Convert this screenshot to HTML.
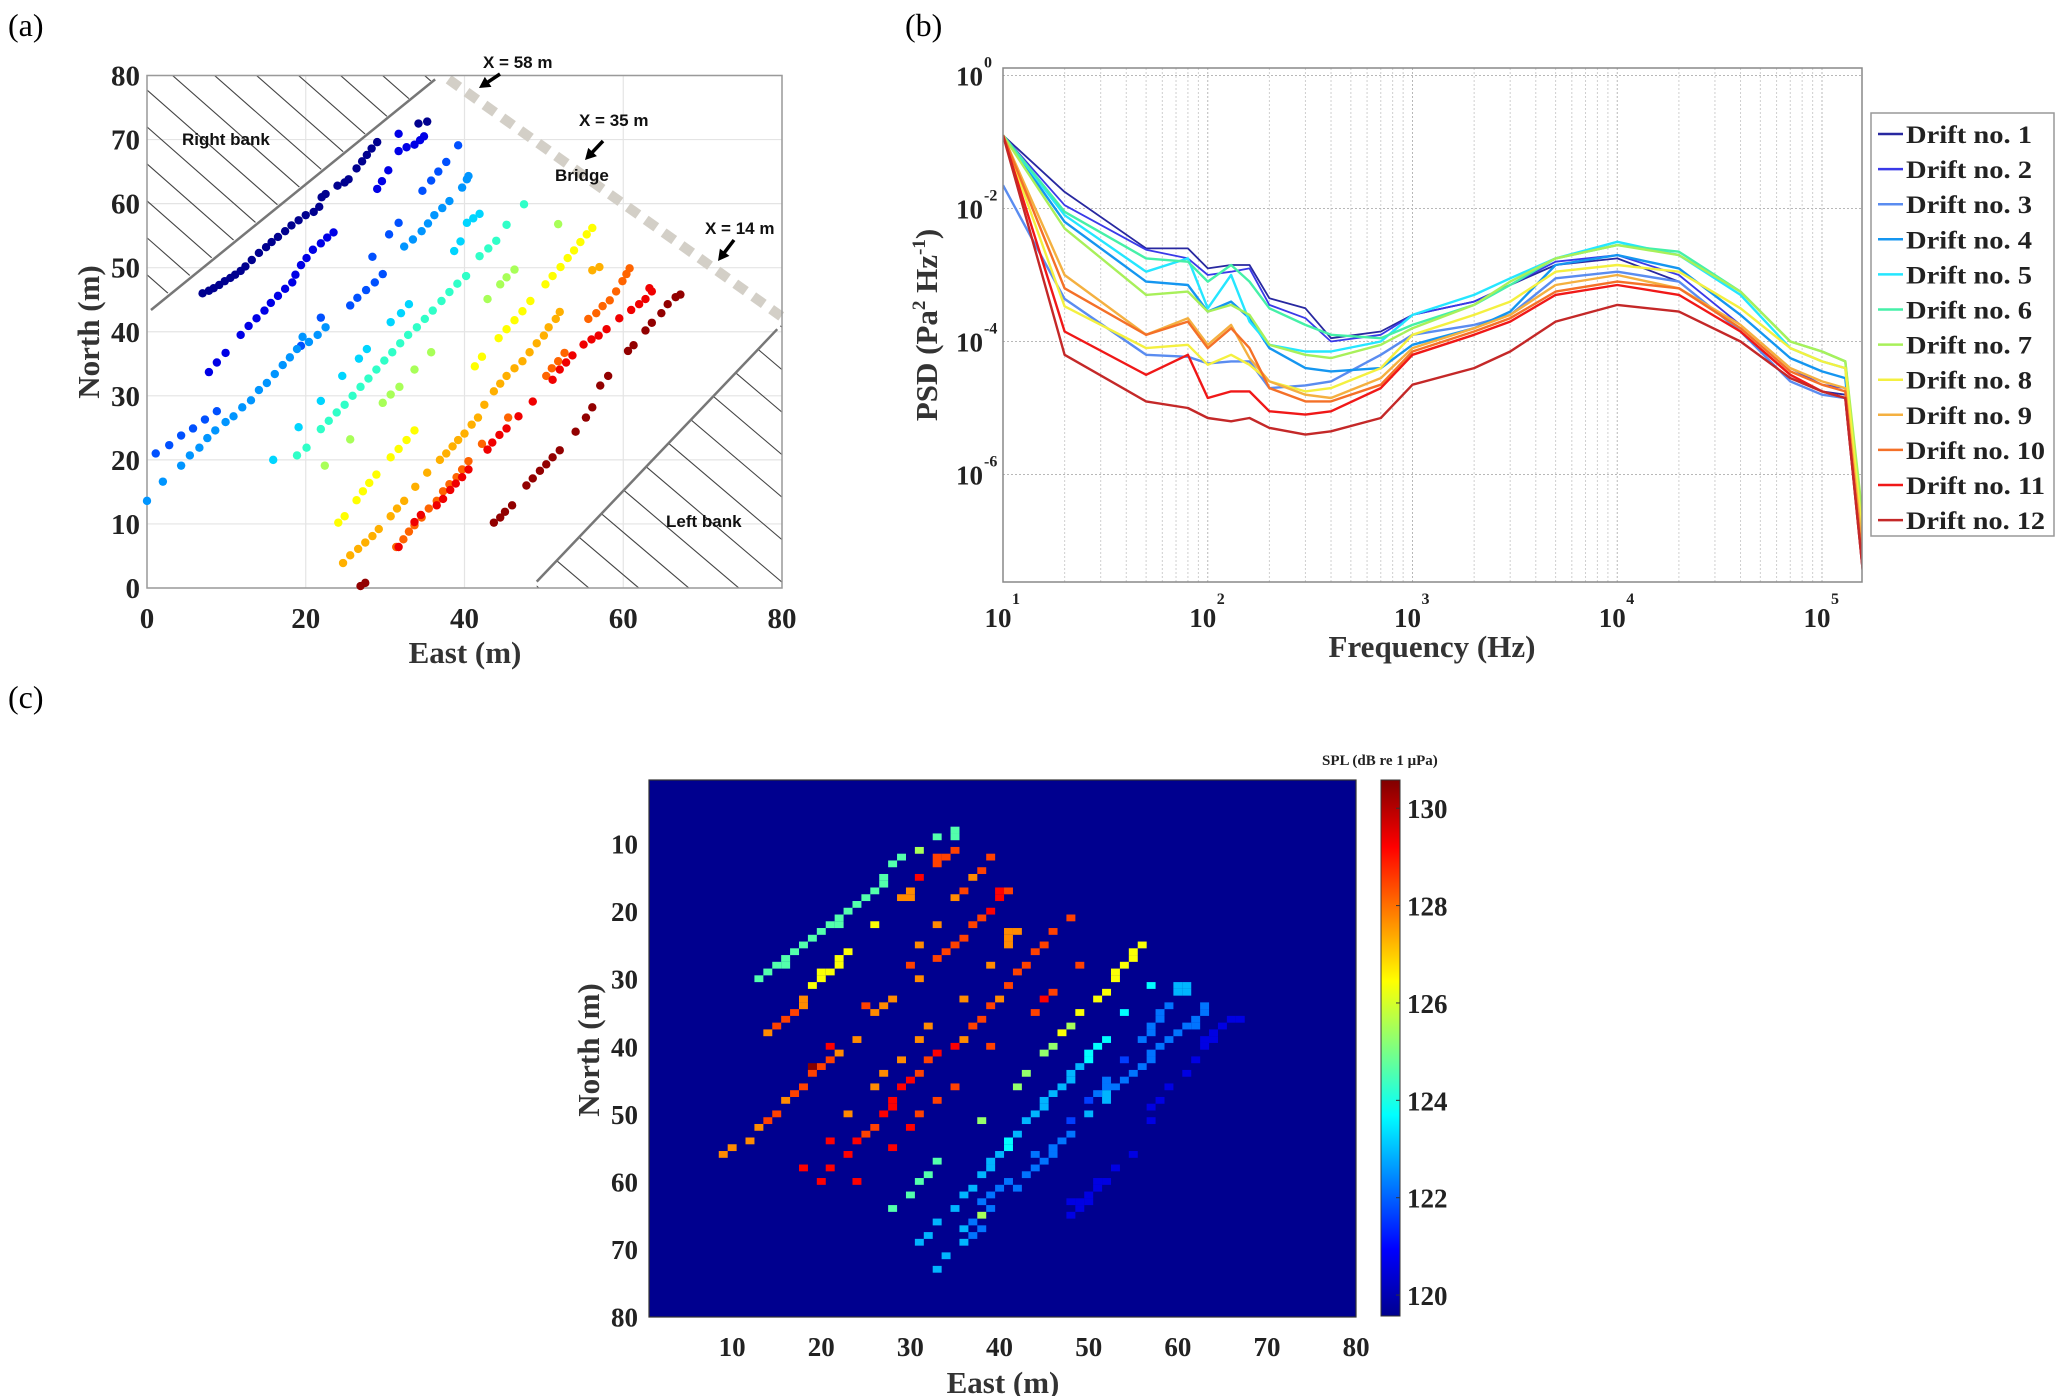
<!DOCTYPE html>
<html><head><meta charset="utf-8"><style>
html,body{margin:0;padding:0;background:#fff;}
svg{display:block;font-family:"Liberation Serif",serif;}
.sans{font-family:"Liberation Sans",sans-serif;}
</style></head><body>
<svg id="fig" xmlns="http://www.w3.org/2000/svg" width="2067" height="1396" viewBox="0 0 2067 1396">
<rect x="0" y="0" width="2067" height="1396" fill="#fff"/>
<defs>
<clipPath id="clipA"><rect x="147" y="75.5" width="635" height="512.5"/></clipPath>
<clipPath id="clipB"><rect x="1003" y="68" width="859" height="514"/></clipPath>
<linearGradient id="jet" x1="0" y1="1" x2="0" y2="0">
<stop offset="0" stop-color="#00008f"/><stop offset="0.125" stop-color="#0000ff"/><stop offset="0.375" stop-color="#00ffff"/><stop offset="0.625" stop-color="#ffff00"/><stop offset="0.875" stop-color="#ff0000"/><stop offset="1" stop-color="#800000"/>
</linearGradient>
</defs>
<text x="8" y="36" font-size="32">(a)</text>
<text x="905" y="36" font-size="32">(b)</text>
<text x="8" y="708" font-size="32">(c)</text>
<g id="pa"></g>
<g id="pb"></g>
<g id="pc"></g>
</svg>
<script>
// ---------- Panel (a) data: drift positions [East, North] ----------
const drift1=[[7,46],[7.8,46.4],[8.4,46.8],[9.1,47.3],[9.8,47.9],[10.5,48.4],[11.1,48.9],[11.8,49.5],[12.4,50.2],[13.2,51.2],[14.1,52.3],[15,53.2],[15.7,54],[16.5,54.8],[17.4,55.7],[18.2,56.6],[19.1,57.4],[20,58.2],[21,58.7],[21.7,59.5],[22,61],[22.5,61.5],[24,62.8],[24.9,63.3],[25.4,63.8],[26.4,65.5],[27.1,66.6],[27.7,67.6],[28.3,68.6],[29,69.6],[34.2,72.5],[35.3,72.8]];
const drift2=[[7.8,33.7],[8.8,35.2],[9.9,36.7],[11.8,39.5],[12.8,40.9],[13.8,42.1],[14.8,43.3],[15.6,44.5],[16.5,45.6],[17.4,46.7],[18.3,47.7],[18.7,48.9],[19.4,50.4],[20.1,51.5],[20.9,52.8],[21.9,53.8],[22.7,54.7],[23.5,55.5],[29,62.3],[29.6,63.5],[30.4,65.2],[31.7,68.2],[32.7,68.8],[33.7,69.2],[34.4,69.9],[34.9,70.5],[31.7,70.9]];
const drift3=[[1.1,21],[2.8,22.3],[4.3,23.8],[5.8,24.9],[7.3,26.3],[8.8,27.6],[34.7,62],[35.8,63.6],[36.7,65],[37.7,66.5],[39.2,69.1],[30.5,55.2],[31.7,57],[28.4,51.7],[25.6,44.1],[26.5,45.3],[27.6,46.5],[28.7,47.7],[29.7,49],[21.9,42.2],[19.4,37.8]];
const drift4=[[0,13.6],[2,16.6],[4.3,19.1],[5.4,20.7],[6.6,21.9],[7.6,23.4],[8.6,24.6],[9.9,25.9],[10.9,26.8],[12,28.2],[13.1,29.3],[14.1,30.9],[15.1,32],[16.1,33.4],[17.1,34.8],[18,36],[18.9,37.3],[19.6,39.2],[20.4,38.4],[21.5,39.5],[22.5,40.7],[32.4,53.3],[33.5,54.4],[34.6,55.7],[35.4,56.9],[36.2,58.2],[37.2,59.3],[38.1,60.4],[39.7,62.5],[40.3,63.8],[40.5,64.3]];
const drift5=[[15.9,20],[19.1,25.1],[21.9,29.2],[24.6,33.1],[26.7,35.8],[27.7,37.3],[30.7,41.5],[32,42.9],[33,44.3],[38.7,52.6],[39.5,54.1],[40.3,57],[41.1,57.7],[41.9,58.4]];
const drift6=[[18.9,20.7],[20.1,21.9],[21.9,24.8],[22.9,26.1],[23.9,27.4],[24.9,28.6],[25.9,30],[26.9,31.4],[27.9,32.7],[28.9,34.1],[29.9,35.5],[30.9,36.8],[31.9,38.2],[32.9,39.5],[34,40.7],[35,42],[36,43.3],[37.1,44.8],[38.1,46.2],[39.1,47.5],[40.2,48.7],[41.9,51.8],[43,53],[44,54.2],[45.3,56.7],[47.5,59.9]];
const drift7=[[22.4,19.1],[25.6,23.2],[29.7,28.9],[30.7,30.2],[31.8,31.4],[33.7,34.1],[35.8,36.8],[42.9,45.1],[44.5,47.4],[45.3,48.5],[46.3,49.7],[51.8,56.8]];
const drift8=[[24.1,10.2],[24.9,11.2],[26.4,13.7],[27.2,15.1],[28,16.4],[28.9,17.7],[30.7,20.4],[31.7,21.7],[32.7,23.1],[33.7,24.6],[41.3,34.6],[42.2,36.1],[44.3,39],[45.3,40.4],[46.3,41.8],[47.3,43.2],[48.3,44.8],[50.2,47.4],[51.1,48.7],[52.1,50.1],[53,51.5],[53.8,52.7],[54.6,54],[55.4,55.2],[56.1,56.2]];
const drift9=[[24.7,3.9],[25.6,5.1],[26.6,6.1],[27.5,7.1],[28.4,8.1],[29.2,9.2],[30.7,11.2],[31.5,12.4],[32.4,13.6],[33.8,15.8],[35.3,18],[36.9,20],[37.7,21],[38.5,22.1],[39.2,23.1],[40,24.1],[40.9,25.5],[41.7,26.6],[42.5,28.6],[43.7,30.7],[44.5,31.9],[45.3,33.1],[46.3,34.3],[47.3,35.4],[48.2,36.8],[49.1,38.2],[50,39.4],[50.6,40.7],[51.5,42],[52,43.1],[56.1,49.6],[57,50.1]];
const drift10=[[31.4,6.4],[32.3,7.6],[33,8.8],[33.7,9.8],[34.6,11],[35.5,12.4],[36.5,13.6],[37.3,15.1],[38.1,16.2],[39,17.3],[39.7,18.5],[40.5,19.8],[42.2,22.5],[45.5,26.6],[50.3,33.1],[51,34.3],[51.8,35.4],[52.6,36.7],[55.6,42],[56.6,42.9],[57.4,44],[58.3,44.9],[59.1,46.3],[59.9,47.9],[60.4,49],[60.8,49.9]];
const drift11=[[31.7,6.4],[33.7,10.3],[34.5,11.4],[36.5,12.9],[37.3,13.9],[38.2,15.3],[38.9,16.3],[39.7,17.3],[40.5,18.5],[42.9,21.6],[43.5,22.7],[44.4,23.9],[45.3,24.9],[46.8,26.8],[48.6,29.1],[51.1,32.5],[52,34.1],[52.8,35.2],[53.6,36.3],[55,38],[56,38.8],[56.9,39.4],[57.9,40.4],[59.5,42.1],[61,43.4],[62,44.3],[62.8,45.1],[63.6,46.3],[63.3,46.8]];
const drift12=[[26.9,0.3],[27.5,0.8],[43.7,10.2],[44.5,11],[45.1,11.9],[46,12.9],[47.8,16],[48.6,17.1],[49.5,18.3],[50.3,19.3],[51.1,20.4],[52,21.5],[54,24.4],[55.3,26.6],[56.1,28.2],[57.1,31.6],[58.1,33.1],[60.6,37],[61.3,37.9],[62.8,40.2],[63.6,41.4],[64.8,42.9],[65.6,44.3],[66.6,45.4],[67.2,45.8]];
const mapTicks=[0,20,40,60,80];
const mapYTicks=[0,10,20,30,40,50,60,70,80];

// ---------- Panel (b) data: PSD, log10 values ----------
const psdFreq=[10,20,50,80,100,130,160,200,300,400,700,1000,2000,3000,5000,10000,20000,40000,70000,100000,130000,160000];
const psd1=[-0.9,-1.75,-2.6,-2.6,-2.9,-2.85,-2.85,-3.35,-3.5,-3.95,-3.85,-3.6,-3.4,-3.15,-2.85,-2.75,-3.1,-3.85,-4.5,-4.75,-4.8,-7.5];
const psd2=[-0.9,-1.95,-2.62,-2.75,-3.0,-2.95,-2.9,-3.45,-3.65,-4.0,-3.9,-3.6,-3.4,-3.15,-2.8,-2.7,-3.0,-3.75,-4.4,-4.65,-4.7,-7.5];
const psd3=[-1.65,-3.36,-4.2,-4.23,-4.33,-4.3,-4.3,-4.7,-4.66,-4.6,-4.2,-3.9,-3.75,-3.6,-3.05,-2.95,-3.1,-3.85,-4.6,-4.8,-4.85,-7.6];
const psd4=[-0.9,-2.2,-3.1,-3.15,-3.55,-3.4,-3.65,-4.1,-4.4,-4.45,-4.4,-4.05,-3.8,-3.55,-2.85,-2.7,-2.9,-3.6,-4.25,-4.45,-4.55,-7.4];
const psd5=[-0.9,-2.1,-2.95,-2.75,-3.5,-3.0,-3.7,-4.05,-4.15,-4.15,-4.0,-3.6,-3.3,-3.05,-2.75,-2.5,-2.7,-3.3,-4.1,-4.3,-4.4,-7.2];
const psd6=[-0.9,-2.05,-2.75,-2.8,-3.1,-2.85,-3.1,-3.5,-3.75,-3.9,-3.95,-3.75,-3.45,-3.15,-2.75,-2.55,-2.65,-3.25,-4.0,-4.15,-4.3,-7.0];
const psd7=[-0.9,-2.3,-3.3,-3.25,-3.55,-3.45,-3.6,-4.05,-4.2,-4.25,-4.05,-3.8,-3.45,-3.1,-2.75,-2.55,-2.7,-3.25,-4.0,-4.15,-4.3,-6.8];
const psd8=[-0.9,-3.47,-4.1,-4.05,-4.35,-4.2,-4.35,-4.6,-4.75,-4.7,-4.4,-3.9,-3.6,-3.4,-2.95,-2.85,-2.95,-3.5,-4.1,-4.3,-4.4,-7.1];
const psd9=[-0.9,-3.0,-3.9,-3.65,-4.05,-3.75,-4.25,-4.6,-4.8,-4.85,-4.55,-4.1,-3.8,-3.6,-3.15,-3.0,-3.2,-3.75,-4.4,-4.6,-4.7,-7.3];
const psd10=[-0.9,-3.2,-3.9,-3.7,-4.1,-3.8,-4.1,-4.7,-4.9,-4.9,-4.65,-4.15,-3.85,-3.65,-3.25,-3.1,-3.2,-3.8,-4.45,-4.65,-4.75,-7.5];
const psd11=[-0.9,-3.85,-4.5,-4.2,-4.85,-4.75,-4.75,-5.05,-5.1,-5.05,-4.7,-4.2,-3.9,-3.7,-3.3,-3.15,-3.3,-3.85,-4.5,-4.75,-4.85,-7.6];
const psd12=[-0.9,-4.2,-4.9,-5.0,-5.15,-5.2,-5.15,-5.3,-5.4,-5.35,-5.15,-4.65,-4.4,-4.15,-3.7,-3.45,-3.55,-4.0,-4.55,-4.75,-4.85,-7.6];
const psdLegend=["Drift no. 1","Drift no. 2","Drift no. 3","Drift no. 4","Drift no. 5","Drift no. 6","Drift no. 7","Drift no. 8","Drift no. 9","Drift no. 10","Drift no. 11","Drift no. 12"];
const psdXTicks=[1,2,3,4,5];
const psdYTicks=[0,-2,-4,-6];

// ---------- Panel (c) data: heatmap cells [East, North, SPL dB] ----------
const heatCells=[[35,8,124.6],[35,9,124.6],[33,9,124.6],[31,11,125.5],[29,12,124.6],[28,13,124.6],[27,15,124.6],[27,16,124.6],[26,17,124.6],[25,18,124.6],[24,19,124.6],[23,20,124.6],[22,21,124.6],[22,22,124.6],[21,22,124.6],[20,23,124.6],[19,24,124.6],[18,25,124.6],[17,26,124.6],[16,27,124.6],[16,28,124.6],[15,28,124.6],[14,29,124.6],[13,30,124.6],
[23,26,126.4],[22,27,126.4],[22,28,126.4],[21,29,126.4],[20,29,126.4],[20,30,126.4],[19,31,126.4],[26,22,126.4],
[18,33,127.7],[18,34,127.7],[17,35,128.5],[16,36,128.5],[15,37,128.5],[14,38,127.7],[21,40,129.2],[22,41,127.7],[21,42,128.5],[20,43,128.5],[19,43,130.5],[19,44,128.5],[18,46,128.5],[17,47,128.5],[16,48,127.7],[15,50,128.5],[14,51,128.5],[13,52,127.7],[12,54,127.7],[10,55,127.7],[9,56,127.7],
[25,34,128.5],[28,33,127.7],[27,34,127.7],[26,35,127.7],[24,39,127.7],[33,12,128.5],[33,13,128.5],[34,12,128.5],[35,11,128.5],[31,15,129.2],[30,17,127.7],[30,18,127.7],[29,18,127.7],[33,22,127.7],[31,25,127.7],[30,28,128.5],[31,30,127.7],
[39,12,128.5],[38,14,128.5],[37,15,127.7],[36,17,128.5],[35,18,127.7],[40,17,129.2],[40,18,129.2],[41,17,128.5],[39,20,129.2],[38,21,128.5],[37,22,128.5],[36,24,128.5],[35,25,128.5],[34,26,128.5],[33,27,128.5],
[41,23,127.7],[41,24,127.7],[41,25,127.7],[42,23,127.7],[39,28,127.7],[42,29,128.5],[43,28,128.5],[41,31,128.5],[40,33,127.7],[39,34,128.5],[38,36,128.5],[37,37,128.5],[36,39,127.7],[35,40,129.2],[33,41,129.2],[32,42,128.5],[31,44,128.5],[30,45,129.2],[29,46,129.2],[28,48,129.2],[28,49,129.2],[27,50,129.2],[26,52,128.5],[25,53,128.5],[24,54,129.2],[23,56,129.2],[21,54,129.2],[23,50,127.7],[26,46,127.7],[27,44,127.7],[29,42,127.7],[31,39,127.7],[32,37,127.7],[36,33,127.7],[39,40,128.5],[35,46,128.5],[33,48,128.5],[31,50,128.5],[30,52,129.2],[28,55,129.2],[18,58,129.2],[21,58,129.2],[20,60,129.2],[24,60,129.2],
[48,21,128.5],[46,23,128.5],[45,25,128.5],[44,26,128.5],[49,28,128.5],[46,32,128.5],[45,33,129.2],[44,35,128.5],
[56,25,126.4],[55,26,126.4],[55,27,126.4],[54,28,126.4],[53,29,126.4],[53,30,126.4],[52,32,126.4],[51,33,126.4],[49,35,126.4],[48,37,125.5],[47,38,126.4],[46,40,125.3],[45,41,125.3],[43,44,125.3],[42,46,125.3],[38,51,125.3],
[57,31,123.7],[60,31,122.9],[61,31,122.9],[60,32,122.9],[61,32,122.9],[59,34,122.2],[58,35,122.2],[58,36,122.2],[57,37,122.2],[57,38,122.2],[56,39,122.2],[52,39,123.7],[51,40,123.7],[50,41,123.7],[50,42,123.7],[49,43,122.9],[48,44,122.9],[48,45,122.9],[47,46,122.9],[46,47,122.9],[45,48,122.9],[45,49,122.9],[44,50,122.9],[43,51,122.9],[42,53,122.9],[41,54,123.7],[41,55,123.7],[40,56,122.9],[39,57,122.9],[39,58,122.9],[38,59,122.9],[37,61,122.9],[36,62,122.9],[35,64,122.9],[33,66,122.9],[32,68,122.9],[31,69,122.9],[34,71,122.9],[33,73,122.9],[30,62,124.6],[28,64,124.6],[31,60,124.6],[32,59,124.6],[33,57,124.6],[38,65,125.5],
[63,34,122.2],[63,35,122.2],[62,36,122.2],[62,37,122.2],[61,37,122.2],[60,38,122.2],[59,39,122.2],[58,40,122.2],[57,41,122.2],[57,42,122.2],[56,43,122.2],[55,44,122.2],[54,45,122.2],[53,46,122.2],[52,45,122.2],[52,46,122.2],[52,47,122.9],[52,48,122.9],[51,47,122.2],[50,48,121.6],[50,50,122.9],[54,42,121.6],[54,35,123.7],[48,51,121.6],[48,53,122.2],[47,54,122.2],[46,55,122.2],[46,56,122.2],[45,57,122.2],[44,56,122.2],[44,58,122.2],[43,59,122.2],[42,61,122.2],[41,60,122.2],[40,61,122.2],[39,62,122.2],[38,63,122.2],[39,64,122.2],[37,66,122.2],[36,67,122.9],[37,68,122.2],[38,67,122.2],[36,69,122.9],
[66,36,120.6],[67,36,120.6],[65,37,120.6],[64,38,120.6],[64,39,120.6],[63,39,120.6],[63,40,120.6],[62,42,120.6],[61,44,120.6],[59,46,120.6],[58,48,120.6],[57,49,120.6],[57,51,120.6],[55,56,120.6],[53,58,120.6],[52,60,120.6],[51,60,120.6],[51,61,120.6],[50,62,120.6],[49,63,120.6],[48,63,120.6],[49,64,120.6],[48,65,120.6],[50,63,120.6]];
const heatXTicks=[10,20,30,40,50,60,70,80];
const heatYTicks=[10,20,30,40,50,60,70,80];
const cbarTicks=[120,122,124,126,128,130];
const splMin=119.57, splMax=130.58;

const NS="http://www.w3.org/2000/svg";
function mk(tag,attrs,parent,txt){const e=document.createElementNS(NS,tag);for(const k in attrs)e.setAttribute(k,attrs[k]);if(txt!==undefined)e.textContent=txt;parent.appendChild(e);return e;}

// ======== Panel A ========
const pa=document.getElementById('pa');
const ax=e=>147+e*(782-147)/80, ay=n=>588-n*(588-75.5)/80;
for(const t of mapYTicks){const l=mk('line',{x1:147,x2:782,y1:ay(t),y2:ay(t),stroke:'#e4e4e4','stroke-width':1.2},pa);


const tx=mk('text',{x:140,y:ay(t)+10,'text-anchor':'end','font-size':29,'font-weight':'bold',fill:'#222'},pa,String(t));

}
for(const t of mapTicks){const l=mk('line',{x1:ax(t),x2:ax(t),y1:75.5,y2:588,stroke:'#e4e4e4','stroke-width':1.2},pa);


const tx=mk('text',{x:ax(t),y:628,'text-anchor':'middle','font-size':29,'font-weight':'bold',fill:'#222'},pa,String(t));

}
// banks
const gh=mk('g',{'clip-path':'url(#clipA)'},pa);


const rbPoly=[[0,43.4],[36.6,80],[0,80]].map(p=>ax(p[0])+','+ay(p[1])).join(' ');
mk('clipPath',{id:'rbClip'},pa).appendChild(Object.assign(document.createElementNS(NS,'polygon'),{}));
document.querySelector('#rbClip polygon').setAttribute('points',rbPoly);
const lbPoly=[[49.1,1],[80,41.2],[80,0],[49.1,0]].map(p=>ax(p[0])+','+ay(p[1])).join(' ');
mk('clipPath',{id:'lbClip'},pa).appendChild(document.createElementNS(NS,'polygon'));
document.querySelector('#lbClip polygon').setAttribute('points',lbPoly);
const rbG=mk('g',{'clip-path':'url(#rbClip)'},gh), lbG=mk('g',{'clip-path':'url(#lbClip)'},gh);
for(let x0=-500;x0<900;x0+=42){mk('line',{x1:x0,y1:75,x2:x0+600,y2:75+600*0.88,stroke:'#444','stroke-width':1.1},rbG);}
for(let x0=-500;x0<900;x0+=50){mk('line',{x1:x0,y1:300,x2:x0+600,y2:300+600*0.85,stroke:'#444','stroke-width':1.1},lbG);}
const rbl=mk('line',{x1:ax(0.5),y1:ay(43.4),x2:ax(36.3),y2:ay(79.4),stroke:'#777','stroke-width':2.5},pa);


const lbl=mk('line',{x1:ax(49.1),y1:ay(1),x2:ax(79.4),y2:ay(40.4),stroke:'#777','stroke-width':2.5},pa);


const br=mk('line',{x1:ax(38),y1:ay(79.4),x2:ax(79.9),y2:ay(42.4),stroke:'#d3cfc7','stroke-width':10,'stroke-dasharray':'13 9'},pa);


const box=mk('rect',{x:147,y:75.5,width:635,height:512.5,fill:'none',stroke:'#9a9a9a','stroke-width':1.5},pa);


const dColors=['#00008f','#0000e6','#0050ff','#0095ff','#00d5ff','#30ffc8','#a8ff58','#ffff00','#ffb000','#ff6400','#f00000','#920000'];
const drifts=[drift1,drift2,drift3,drift4,drift5,drift6,drift7,drift8,drift9,drift10,drift11,drift12];
drifts.forEach((s,i)=>{const g=mk('g',{},pa);


for(const p of s){const c=mk('circle',{cx:ax(p[0]),cy:ay(p[1]),r:4.2,fill:dColors[i]},g);

}});
const annots=[['X = 58 m',483,68],['X = 35 m',579,126],['Bridge',555,181],['X = 14 m',705,234],['Right bank',182,145],['Left bank',666,527]];
for(const a of annots){const t=mk('text',{x:a[1],y:a[2],'font-size':17,'font-weight':'bold',class:'sans',fill:'#111'},pa,a[0]);

}
const arrows=[[500,74,479,88],[603,141,585,160],[734,240,718,261]];
for(const a of arrows){const dx=a[2]-a[0],dy=a[3]-a[1],L=Math.hypot(dx,dy),ux=dx/L,uy=dy/L;
const g=mk('g',{},pa);


mk('line',{x1:a[0],y1:a[1],x2:a[2]-ux*6,y2:a[3]-uy*6,stroke:'#000','stroke-width':3.5},g);
const bx=a[2]-ux*11,by=a[3]-uy*11;
mk('polygon',{points:`${a[2]},${a[3]} ${bx-uy*6},${by+ux*6} ${bx+uy*6},${by-ux*6}`,fill:'#000'},g);}
const aX=mk('text',{x:465,y:663,'text-anchor':'middle','font-size':31,'font-weight':'bold',fill:'#333'},pa,'East (m)');


const aY=mk('text',{x:0,y:0,transform:'translate(99,332) rotate(-90)','text-anchor':'middle','font-size':31,'font-weight':'bold',fill:'#333'},pa,'North (m)');



// ======== Panel B ========
const pb=document.getElementById('pb');
const bx_=f=>1003+(Math.log10(f)-1)*204.75, by_=l=>75.5-l*66.5;
for(let d=1;d<=5;d++){for(let m=1;m<10;m++){const f=m*Math.pow(10,d);if(bx_(f)>1862)break;
const l=mk('line',{x1:bx_(f),x2:bx_(f),y1:68,y2:582,stroke:m===1?'#b8b8b8':'#cfcfcf','stroke-width':1,'stroke-dasharray':'2 2'},pb);

}}
for(const t of psdYTicks){const l=mk('line',{x1:1003,x2:1862,y1:by_(t),y2:by_(t),stroke:'#b8b8b8','stroke-width':1,'stroke-dasharray':'2 2'},pb);


const tx=mk('text',{x:983,y:by_(t)+10,'text-anchor':'end','font-size':27,'font-weight':'bold',fill:'#222'},pb,'10');


const sp=mk('text',{x:984,y:by_(t)-8,'font-size':16,'font-weight':'bold',fill:'#222'},pb,String(t));

}
for(const t of psdXTicks){const x=bx_(Math.pow(10,t));
const tx=mk('text',{x:x-5,y:627,'text-anchor':'middle','font-size':27,'font-weight':'bold',fill:'#222'},pb,'10');


const sp=mk('text',{x:x+9,y:604,'font-size':16,'font-weight':'bold',fill:'#222'},pb,String(t));

}
const pColors=['#2828a0','#3a3ae8','#5a8cf0','#1596f0','#25e6ff','#45f0a8','#a8f05a','#f4f040','#f4b040','#f47028','#f01818','#c42828'];
const psds=[psd1,psd2,psd3,psd4,psd5,psd6,psd7,psd8,psd9,psd10,psd11,psd12];
const gl=mk('g',{'clip-path':'url(#clipB)'},pb);
psds.forEach((s,i)=>{const pts=s.map((v,j)=>bx_(psdFreq[j]).toFixed(1)+','+by_(v).toFixed(1)).join(' ');
const pl=mk('polyline',{points:pts,fill:'none',stroke:pColors[i],'stroke-width':i<2?1.8:2.4,'stroke-linejoin':'round'},gl);

});
const bbox=mk('rect',{x:1003,y:68,width:859,height:514,fill:'none',stroke:'#888','stroke-width':1.5},pb);


const leg=mk('g',{},pb);


mk('rect',{x:1871,y:113,width:183,height:423,fill:'#fff',stroke:'#999','stroke-width':1.5},leg);
psdLegend.forEach((n,i)=>{const y=134+i*35.1;const g=mk('g',{},leg);


mk('line',{x1:1878,x2:1903,y1:y,y2:y,stroke:pColors[i],'stroke-width':2.5},g);
mk('text',{x:1906,y:y+9,'font-size':25,'font-weight':'bold',fill:'#222',textLength:n.length>11?139:126,lengthAdjust:'spacingAndGlyphs'},g,n);});
const bX=mk('text',{x:1432,y:657,'text-anchor':'middle','font-size':31,'font-weight':'bold',fill:'#333'},pb,'Frequency (Hz)');


const bY=mk('text',{x:0,y:0,transform:'translate(937,325) rotate(-90)','text-anchor':'middle','font-size':31,'font-weight':'bold',fill:'#333'},pb);


bY.innerHTML='PSD (Pa<tspan dy="-12" font-size="19">2</tspan><tspan dy="12"> Hz</tspan><tspan dy="-12" font-size="19">-1</tspan><tspan dy="12">)</tspan>';

// ======== Panel C ========
const pc=document.getElementById('pc');
const cx_=e=>643+e*8.914, cy_=n=>776+n*6.757;
function jet(v){let t=(v-splMin)/(splMax-splMin);t=Math.max(0,Math.min(1,t));
const st=[[0,0,0,143],[0.125,0,0,255],[0.375,0,255,255],[0.625,255,255,0],[0.875,255,0,0],[1,128,0,0]];
for(let i=1;i<st.length;i++){if(t<=st[i][0]){const a=st[i-1],b=st[i],u=(t-a[0])/(b[0]-a[0]);
return `rgb(${Math.round(a[1]+u*(b[1]-a[1]))},${Math.round(a[2]+u*(b[2]-a[2]))},${Math.round(a[3]+u*(b[3]-a[3]))})`;}}return 'rgb(128,0,0)';}
const hbg=mk('rect',{x:649,y:780,width:707,height:537,fill:jet(splMin)},pc);


for(const c of heatCells){const r=mk('rect',{x:cx_(c[0]-0.5),y:cy_(c[1]-0.5),width:8.95,height:6.8,fill:jet(c[2])},pc);

}
const hb=mk('rect',{x:649,y:780,width:707,height:537,fill:'none',stroke:'#333','stroke-width':1.2},pc);


for(const t of heatXTicks){const tx=mk('text',{x:cx_(t),y:1356,'text-anchor':'middle','font-size':27,'font-weight':'bold',fill:'#222'},pc,String(t));

}
for(const t of heatYTicks){const tx=mk('text',{x:638,y:cy_(t)+10,'text-anchor':'end','font-size':27,'font-weight':'bold',fill:'#222'},pc,String(t));

}
const cb=mk('rect',{x:1381,y:780,width:19,height:536,fill:'url(#jet)',stroke:'#333','stroke-width':1},pc);


const cbY=v=>1316-(v-splMin)/(splMax-splMin)*536;
for(const t of cbarTicks){mk('line',{x1:1396,x2:1400,y1:cbY(t),y2:cbY(t),stroke:'#333'},pc);
const tx=mk('text',{x:1407,y:cbY(t)+10,'font-size':27,'font-weight':'bold',fill:'#222'},pc,String(t));

}
const cbt=mk('text',{x:1322,y:765,'font-size':15,'font-weight':'bold',fill:'#222'},pc,'SPL (dB re 1 μPa)');


const cX=mk('text',{x:1003,y:1393,'text-anchor':'middle','font-size':31,'font-weight':'bold',fill:'#333'},pc,'East (m)');


const cY=mk('text',{x:0,y:0,transform:'translate(599,1050) rotate(-90)','text-anchor':'middle','font-size':31,'font-weight':'bold',fill:'#333'},pc,'North (m)');


</script>
</body></html>
